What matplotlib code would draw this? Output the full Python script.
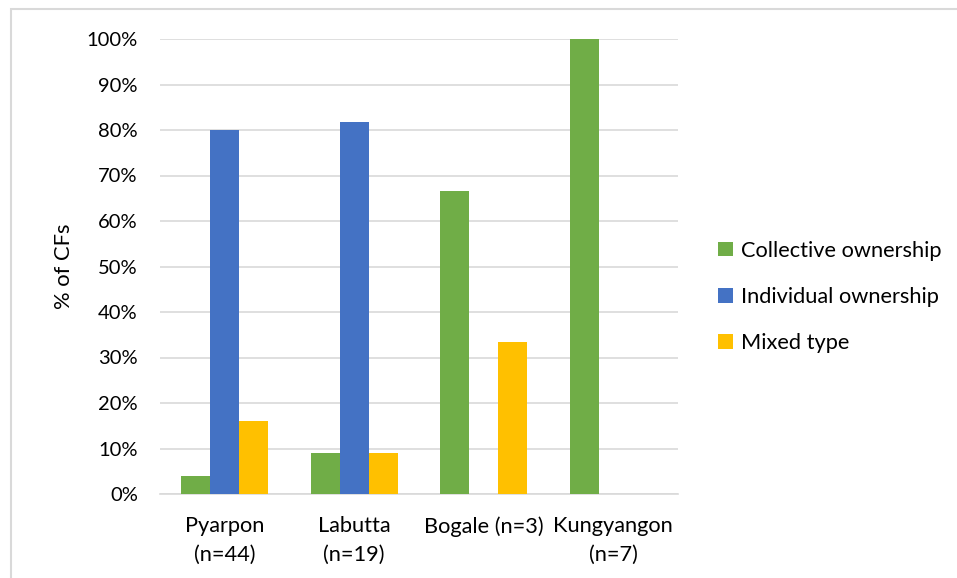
import numpy as np
import matplotlib.pyplot as plt
from matplotlib.patches import Rectangle

# Data
districts = ["Pyarpon\n(n=44)", "Labutta\n(n=19)", "Bogale (n=3)", "Kungyangon\n(n=7)"]
collective = [4.0, 9.0, 66.7, 100.0]
individual = [80.0, 81.8, 0.0, 0.0]
mixed = [16.0, 9.0, 33.3, 0.0]

series_names = ["Collective ownership", "Individual ownership", "Mixed type"]
colors = ["#70AD47", "#4472C4", "#FFC000"]

plt.rcParams["font.family"] = ["Lato", "DejaVu Sans"]

fig = plt.figure(figsize=(9.57, 5.78), dpi=100)
ax = fig.add_axes([160 / 957, 1 - 494 / 578, 518 / 957, 455 / 578])

# outer chart border (light gray, cut at right and bottom)
fig.patches.append(Rectangle((11 / 957, -0.1), 1.2, 1 - 9 / 578 + 0.1,
                             transform=fig.transFigure, fill=False,
                             edgecolor="#d9d9d9", linewidth=1.5))

x = np.arange(len(districts))
width = 0.224
for i, (vals, name, c) in enumerate(zip([collective, individual, mixed], series_names, colors)):
    ax.bar(x + (i - 1) * width, vals, width, color=c, label=name, zorder=3)

ax.set_xlim(-0.5, len(districts) - 0.5)
ax.set_ylim(0, 100)
ax.set_yticks(np.arange(0, 101, 10))
ax.set_yticklabels([f"{v}%" for v in range(0, 101, 10)])
ax.set_xticks(x)
ax.set_xticklabels(districts, fontsize=15.7, linespacing=1.55)
ax.tick_params(axis="both", length=0, colors="#000000")
ax.tick_params(axis="y", labelsize=14.5, pad=16)
ax.tick_params(axis="x", pad=16)

ax.grid(axis="y", color="#d9d9d9", linewidth=1.2, zorder=0)
for s in ["top", "right", "left"]:
    ax.spines[s].set_visible(False)
ax.spines["bottom"].set_color("#d9d9d9")
ax.spines["bottom"].set_linewidth(1.2)

ax.set_ylabel("% of CFs", fontsize=15.8, labelpad=9)

ax.legend(loc="center left", bbox_to_anchor=(1.04, 0.433), frameon=False,
          fontsize=15.7, handlelength=0.65, handleheight=0.65,
          handletextpad=0.4, labelspacing=1.2)

fig.savefig("out.png", dpi=100)
